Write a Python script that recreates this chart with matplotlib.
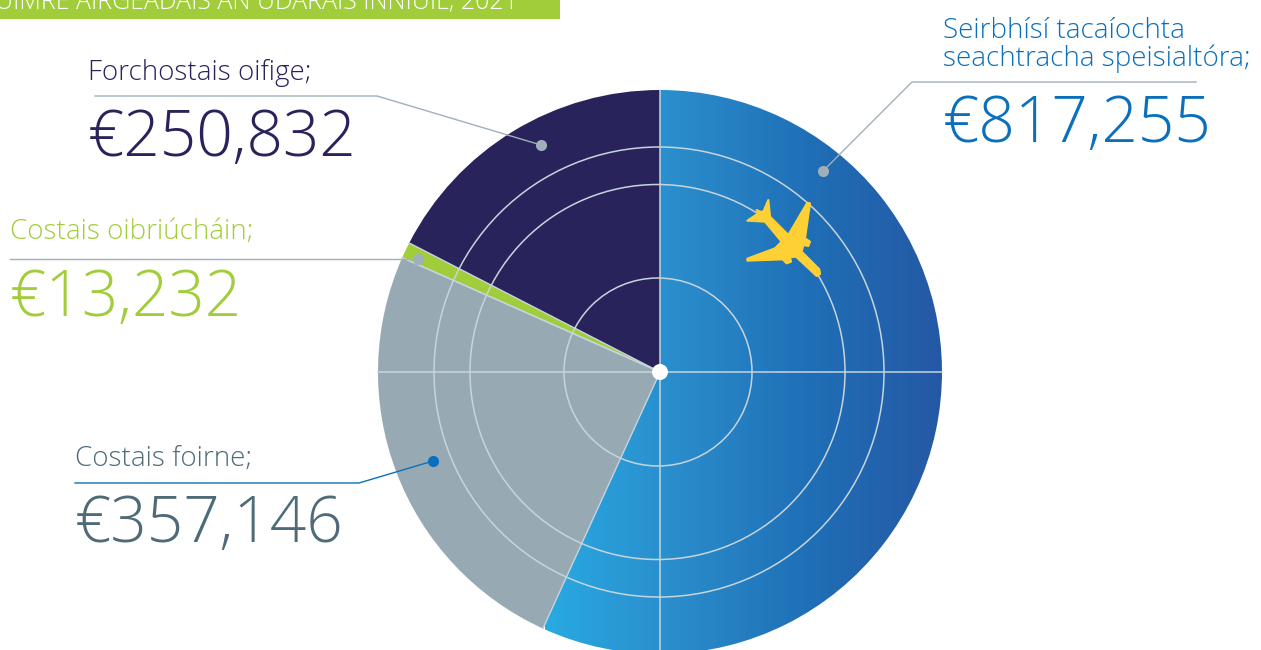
import numpy as np
import matplotlib
matplotlib.use('Agg')
import matplotlib.pyplot as plt
from matplotlib.colors import LinearSegmentedColormap
from matplotlib.patches import Circle, Polygon, Rectangle

# Datos
categorias = ['Seirbhísí tacaíochta\nseachtracha speisialtóra;', 'Costais foirne;', 'Costais oibriúcháin;', 'Forchostais oifige;']
valores = [817255, 357146, 13232, 250832]
titulo = 'UIMRE AIRGEADAIS AN ÚDARÁIS INNIÚIL, 2021'

colores = ['none', '#97aab4', '#a2cd3a', '#29235c']
colores_texto = ['#0a70bc', '#4f6b78', '#a2cd3a', '#29235c']

plt.rcParams['font.family'] = ['Open Sans', 'DejaVu Sans']

fig = plt.figure(figsize=(12.61, 6.5), dpi=100)
ax = fig.add_axes([0, 0, 1, 1])

# coordenadas en pixeles, con y hacia arriba
H = 650
cx, cy, radio = 660, H - 372, 282

wedges, _ = ax.pie(valores, colors=colores, center=(cx, cy), radius=radio, startangle=90,
                   counterclock=False, frame=True,
                   wedgeprops={'linewidth': 0})

# degradado del sector azul
cmap = LinearSegmentedColormap.from_list('azul', ['#28aae2', '#2a8ccb', '#1f6fb6', '#2558a5'])
img = ax.imshow(np.linspace(0, 1, 256).reshape(1, -1), cmap=cmap, aspect='auto',
                extent=(545, 942, H - 650, H - 90), zorder=1)
img.set_clip_path(wedges[0])

# anillos y ejes del radar
color_red = '#c6d4dd'
for x0, r in [(658, 94), (657.5, 187.5), (659, 225)]:
    ax.add_patch(Circle((x0, cy), r, fill=False, ec=color_red, lw=1.1, zorder=3))
ax.plot([cx - radio, cx + radio], [cy, cy], color=color_red, lw=1.1, zorder=3)
ax.plot([cx, cx], [cy - radio, cy + radio], color=color_red, lw=1.1, zorder=3)

# borde claro entre sectores
for w in wedges[1:3]:
    for ang in [w.theta1, w.theta2]:
        a = np.radians(ang)
        ax.plot([cx, cx + radio * np.cos(a)], [cy, cy + radio * np.sin(a)], color=color_red, lw=1, zorder=2)

ax.add_patch(Circle((cx, cy), 8, fc='white', ec='none', zorder=5))

# avion (contorno trazado sobre la imagen)
avion = [(145, 90), (150, 140), (205, 195), (262, 98), (270, 100), (255, 205), (270, 215), (265, 228), (250, 225),
         (245, 245), (298, 298), (300, 312), (290, 318), (228, 260), (210, 262), (213, 275), (200, 280), (188, 268),
         (82, 272), (82, 266), (165, 235), (185, 215), (135, 155), (82, 152), (115, 130), (110, 120), (120, 125),
         (130, 125)]
avion = [(720 + x / 3, H - (170 + y / 3)) for x, y in avion]
ax.add_patch(Polygon(avion, closed=True, fc='#ffd033', ec='#ffd033', lw=1.5, joinstyle='round', zorder=4))

# banda del titulo
ax.add_patch(Rectangle((0, H - 19), 560, 19, fc='#a2cd3a', ec='none', zorder=1))
ax.text(518, H - 8.5, titulo, color='white', fontsize=18, fontweight='light', ha='right', va='baseline', zorder=2)

# lineas guia
guias = [
    ([1196, 912, 823], [82, 82, 171], '#9fb0ba'),
    ([75, 359, 433], [483, 483, 461], '#0a70bc'),
    ([10, 418], [259, 259], '#9fb0ba'),
    ([95, 377, 541], [96, 96, 145], '#9fb0ba'),
]
for xs, ys, c in guias:
    ys = [H - y for y in ys]
    ax.plot(xs, ys, color=c, lw=1, zorder=6)
    ax.plot(xs[-1], ys[-1], 'o', color=c, ms=8, mec='none', zorder=6)

# etiquetas
pos_etiqueta = [(943, 66), (75, 466), (10, 239), (88, 80)]
pos_valor = [(943, 142), (75, 542), (10, 316), (88, 156)]
for cat, val, c, pe, pv in zip(categorias, valores, colores_texto, pos_etiqueta, pos_valor):
    ax.text(pe[0], H - pe[1], cat, color=c, fontsize=20, fontweight='light', va='baseline', linespacing=0.98)
    ax.text(pv[0], H - pv[1], f'€{val:,}', color=c, fontsize=46, fontweight='light', va='baseline')

ax.set_xlim(0, 1261)
ax.set_ylim(0, H)
ax.axis('off')

fig.savefig('out.png', dpi=100)
